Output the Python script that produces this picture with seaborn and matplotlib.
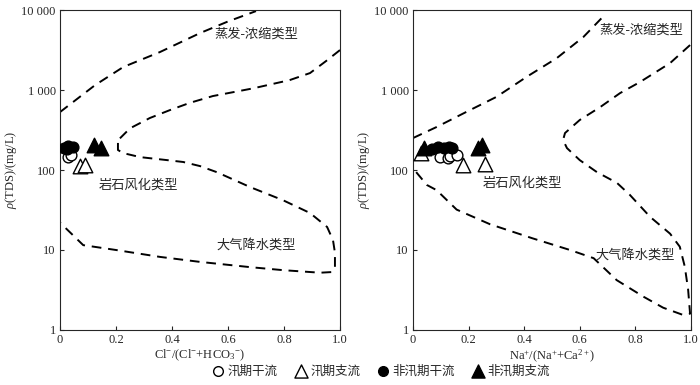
import numpy as np
import pandas as pd
import matplotlib
matplotlib.use("Agg")
import matplotlib.pyplot as plt
import seaborn as sns
from matplotlib.ticker import FixedLocator, FixedFormatter, NullLocator

sns.set_style("ticks")
plt.rcParams['font.family'] = ['Liberation Serif', 'Noto Sans CJK SC', 'DejaVu Sans']
plt.rcParams['mathtext.fontset'] = 'custom'
plt.rcParams['mathtext.rm'] = 'Liberation Serif'
plt.rcParams['mathtext.it'] = 'Liberation Serif:italic'
plt.rcParams['font.size'] = 9

# ---- Gibbs boundary curves (x ratio, TDS mg/L) ----
# left panel: Cl/(Cl+HCO3)
l_top_x = [0.0, 0.125, 0.226, 0.357, 0.5, 0.6, 0.70]
l_top_y = [530, 1150, 1940, 2985, 5150, 7200, 9700]
l_mid_x = [1.0, 0.95, 0.893, 0.82, 0.69, 0.546, 0.464, 0.393, 0.321, 0.25, 0.208]
l_mid_y = [3160, 2300, 1630, 1330, 1050, 841, 692, 562, 447, 332, 237]
l_low_x = [0.207, 0.207, 0.225, 0.286, 0.382, 0.44, 0.5, 0.56, 0.68, 0.796, 0.893,
           0.954, 0.975, 0.982, 0.982, 0.971, 0.929, 0.796, 0.68, 0.5, 0.357,
           0.2, 0.083, 0.0]
l_low_y = [218, 178, 163, 145, 133, 126, 112, 94, 61, 42, 29,
           19.4, 13.3, 9.2, 6.1, 5.3, 5.2, 5.6, 6.1, 7.1, 8.2,
           10, 11.5, 22]
# right panel: Na/(Na+Ca)
r_top_x = [0.0, 0.085, 0.193, 0.30, 0.41, 0.517, 0.613, 0.69]
r_top_y = [251, 345, 535, 820, 1470, 2500, 4600, 8700]
r_mid_x = [0.997, 0.925, 0.817, 0.745, 0.673, 0.60, 0.547, 0.54, 0.554, 0.60, 0.662,
           0.734, 0.78, 0.853, 0.925, 0.96, 0.978, 0.99, 0.997, 0.97, 0.9, 0.83,
           0.733, 0.65, 0.565, 0.43, 0.277, 0.157, 0.085, 0.05, 0.0]
r_mid_y = [3650, 2170, 1260, 915, 610, 422, 290, 237, 188, 133, 94,
           69, 49, 26, 16, 11, 6.2, 3.2, 1.6, 1.55, 1.9, 2.6,
           4.2, 7.9, 10, 14, 21, 32, 56, 65, 105]

# ---- samples ----
groups = ['汛期干流', '汛期支流', '非汛期干流', '非汛期支流']
left_x = {
    '汛期干流': [0.03, 0.04],
    '汛期支流': [0.07, 0.09],
    '非汛期干流': [0.015, 0.03, 0.045, 0.025],
    '非汛期支流': [0.12, 0.145],
}
left_y = {
    '汛期干流': [145, 155],
    '汛期支流': [113, 115],
    '非汛期干流': [190, 198, 192, 185],
    '非汛期支流': [205, 190],
}
right_x = {
    '汛期干流': [0.097, 0.125, 0.133, 0.158],
    '汛期支流': [0.03, 0.18, 0.26],
    '非汛期干流': [0.07, 0.09, 0.11, 0.13, 0.14],
    '非汛期支流': [0.04, 0.235, 0.25],
}
right_y = {
    '汛期干流': [145, 142, 150, 155],
    '汛期支流': [165, 115, 119],
    '非汛期干流': [185, 195, 190, 196, 188],
    '非汛期支流': [188, 188, 205],
}

styles = {
    '汛期干流': dict(marker='o', s=60, color='white'),
    '汛期支流': dict(marker='^', s=110, color='white'),
    '非汛期干流': dict(marker='o', s=60, color='black'),
    '非汛期支流': dict(marker='^', s=110, color='black'),
}

fig = plt.figure(figsize=(7, 3.85), dpi=100)
ax1 = fig.add_axes([0.0857, 0.1429, 0.4, 0.831])
ax2 = fig.add_axes([0.59, 0.1429, 0.397, 0.831])

dash = dict(color='black', lw=1.4, linestyle=(0, (5, 3.5)))


def draw_line(ax, xs, ys):
    df = pd.DataFrame({'x': xs, 'y': ys})
    sns.lineplot(data=df, x='x', y='y', sort=False, estimator=None, ax=ax, **dash)


draw_line(ax1, l_top_x, l_top_y)
draw_line(ax1, l_mid_x, l_mid_y)
draw_line(ax1, l_low_x, l_low_y)
draw_line(ax2, r_top_x, r_top_y)
draw_line(ax2, r_mid_x, r_mid_y)

for ax, xs, ys in [(ax1, left_x, left_y), (ax2, right_x, right_y)]:
    for g in groups:
        st = styles[g]
        sns.scatterplot(x=xs[g], y=ys[g], marker=st['marker'], s=st['s'],
                        color=st['color'], edgecolor='black', linewidth=1.0,
                        ax=ax, label=g if ax is ax1 else None, zorder=3)
    if ax.get_legend():
        ax.get_legend().remove()

fs = 9.5
ax1.text(0.70, 4900, '蒸发-浓缩类型', ha='center', va='center', fontsize=fs)
ax1.text(0.28, 65, '岩石风化类型', ha='center', va='center', fontsize=fs)
ax1.text(0.70, 11.5, '大气降水类型', ha='center', va='center', fontsize=fs)
ax2.text(0.82, 5600, '蒸发-浓缩类型', ha='center', va='center', fontsize=fs)
ax2.text(0.394, 69, '岩石风化类型', ha='center', va='center', fontsize=fs)
ax2.text(0.80, 8.7, '大气降水类型', ha='center', va='center', fontsize=fs)

yticks = [1, 10, 100, 1000, 10000]
ylabels = ['1', '10', '100', '1 000', '10 000']
for ax in (ax1, ax2):
    ax.set_yscale('log')
    ax.set_xlim(0, 1)
    ax.set_ylim(1, 10000)
    ax.yaxis.set_major_locator(FixedLocator(yticks))
    ax.yaxis.set_major_formatter(FixedFormatter(ylabels))
    ax.yaxis.set_minor_locator(NullLocator())
    ax.set_xticks([0, 0.2, 0.4, 0.6, 0.8, 1.0])
    ax.set_xticklabels(['0', '0.2', '0.4', '0.6', '0.8', '1.0'])
    ax.tick_params(direction='in', length=3, width=0.8, labelsize=9, pad=3)
    for sp in ax.spines.values():
        sp.set_visible(True)
        sp.set_linewidth(0.8)
    ax.set_ylabel(r'$\it{\rho}$(TDS)/(mg/L)', fontsize=9, labelpad=2)

ax1.set_xlabel(r'Cl$^{-}$/(Cl$^{-}$+HCO$_3$$^{-}$)', fontsize=9, labelpad=1)
ax2.set_xlabel(r'Na$^{+}$/(Na$^{+}$+Ca$^{2+}$)', fontsize=9, labelpad=1)

handles, labels = ax1.get_legend_handles_labels()
fig.legend(handles, labels, loc='lower center', bbox_to_anchor=(0.543, -0.01),
           ncol=4, frameon=False, fontsize=9, handletextpad=0.1,
           handlelength=1.3, columnspacing=1.2, markerscale=0.9)

fig.savefig('out.png', dpi=100)
